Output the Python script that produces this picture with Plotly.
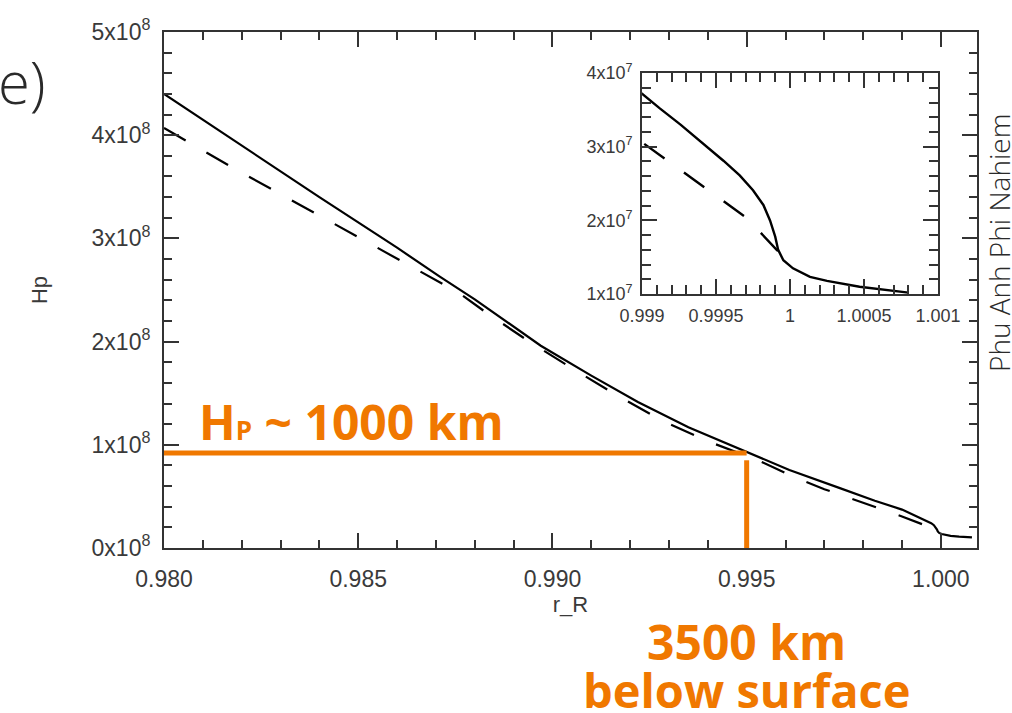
import numpy as np
import plotly.graph_objects as go

# ---------------- data ----------------
r_solid = [0.9800, 0.9820, 0.9840, 0.9860, 0.9871, 0.9880, 0.9889, 0.9897, 0.9910,
           0.9922, 0.9935, 0.9950, 0.9961, 0.9974, 0.9983, 0.9990, 0.99912, 0.99926,
           0.99941, 0.99955, 0.99966, 0.99975, 0.99982, 0.999865, 0.99990, 0.99992,
           0.999955, 1.00002, 1.000135, 1.00025, 1.00047, 1.00070, 1.00080]
hp_solid = [4.40e8, 3.90e8, 3.40e8, 2.91e8, 2.63e8, 2.41e8, 2.17e8, 1.96e8, 1.67e8,
            1.415e8, 1.17e8, 0.93e8, 0.756e8, 0.58e8, 0.458e8, 0.372e8, 0.352e8, 0.330e8,
            0.305e8, 0.281e8, 0.261e8, 0.241e8, 0.221e8, 0.200e8, 0.178e8, 0.160e8,
            0.146e8, 0.135e8, 0.1235e8, 0.118e8, 0.110e8, 0.1045e8, 0.102e8]

r_dash = [0.9800, 0.9817, 0.9829, 0.9852, 0.9870, 0.9876, 0.9883, 0.9894, 0.9906,
          0.9917, 0.9929, 0.9941, 0.9953, 0.9962, 0.9970, 0.99765, 0.99876, 0.9990,
          0.99971, 0.99991, 1.00000]
hp_dash = [4.07e8, 3.70e8, 3.45e8, 2.97e8, 2.60e8, 2.47e8, 2.28e8, 2.00e8, 1.72e8,
           1.47e8, 1.22e8, 1.02e8, 0.85e8, 0.69e8, 0.57e8, 0.485e8, 0.335e8, 0.306e8,
           0.203e8, 0.160e8, 0.145e8]

main_x_ticks = [0.980, 0.985, 0.990, 0.995, 1.000]
main_x_labels = ["0.980", "0.985", "0.990", "0.995", "1.000"]
main_y_ticks = [0, 1e8, 2e8, 3e8, 4e8, 5e8]
main_y_labels = ["0x10<sup>8</sup>", "1x10<sup>8</sup>", "2x10<sup>8</sup>",
                 "3x10<sup>8</sup>", "4x10<sup>8</sup>", "5x10<sup>8</sup>"]

inset_x_ticks = [0.999, 0.9995, 1.0, 1.0005, 1.001]
inset_x_labels = ["0.999", "0.9995", "1", "1.0005", "1.001"]
inset_y_ticks = [1e7, 2e7, 3e7, 4e7]
inset_y_labels = ["1x10<sup>7</sup>", "2x10<sup>7</sup>", "3x10<sup>7</sup>", "4x10<sup>7</sup>"]

hp_level = 0.92e8      # orange guide level
r_mark = 0.995         # orange guide radius
vline_top = 0.85e8

# ---------------- style ----------------
AX = "#333333"
TXT = "#3a3a3a"
ORANGE = "#F07800"
FONT = "Liberation Sans, Arial, sans-serif"

fig = go.Figure()

for xa, ya, w in [("x", "y", 2.2), ("x2", "y2", 2.4)]:
    fig.add_trace(go.Scatter(x=r_solid, y=hp_solid, mode="lines", xaxis=xa, yaxis=ya,
                             line=dict(color="black", width=w), showlegend=False,
                             hoverinfo="skip"))
    fig.add_trace(go.Scatter(x=r_dash, y=hp_dash, mode="lines", xaxis=xa, yaxis=ya,
                             line=dict(color="black", width=w, dash="25px,24px"),
                             showlegend=False, hoverinfo="skip"))


def axis_style(major_len, minor_len, minor_vals, fsize):
    return dict(showline=True, linewidth=2, linecolor=AX, mirror="allticks",
                ticks="inside", ticklen=major_len, tickwidth=2, tickcolor=AX,
                showgrid=False, zeroline=False,
                tickfont=dict(family=FONT, size=fsize, color=TXT),
                minor=dict(tickmode="array", tickvals=minor_vals, ticks="inside",
                           ticklen=minor_len, tickwidth=2, tickcolor=AX, showgrid=False))


main_x_minor = list(np.round(np.arange(0.980, 1.0009, 0.001), 4))
main_y_minor = list(np.arange(0, 5.01e8, 0.2e8))
inset_x_minor = list(np.round(np.arange(0.999, 1.00101, 0.0001), 5))
inset_y_minor = list(np.arange(1e7, 4.01e7, 0.2e7))

fig.update_layout(
    width=1012, height=713, autosize=False,
    margin=dict(l=164, r=35, t=32, b=165, pad=0),
    paper_bgcolor="white", plot_bgcolor="white",
    xaxis=dict(range=[0.980, 1.00093], tickmode="array", tickvals=main_x_ticks,
               ticktext=main_x_labels, ticklabelstandoff=9,
               title=dict(text="r_R", font=dict(family=FONT, size=22, color=TXT), standoff=4),
               **axis_style(15, 8, main_x_minor, 23)),
    yaxis=dict(range=[0, 5e8], tickmode="array", tickvals=main_y_ticks,
               ticktext=main_y_labels, ticklabelstandoff=7,
               title=dict(text="Hp", font=dict(family=FONT, size=22, color=TXT), standoff=38),
               **axis_style(15, 8, main_y_minor, 23)),
    xaxis2=dict(domain=[0.588, 0.952], anchor="y2", range=[0.999, 1.001],
                tickmode="array", tickvals=inset_x_ticks, ticktext=inset_x_labels,
                ticklabelstandoff=4,
                **axis_style(15, 9, inset_x_minor, 18)),
    yaxis2=dict(domain=[0.492, 0.9205], anchor="x2", range=[1e7, 4e7],
                tickmode="array", tickvals=inset_y_ticks, ticktext=inset_y_labels,
                ticklabelstandoff=4,
                **axis_style(15, 9, inset_y_minor, 18)),
)

# orange guide lines
fig.add_shape(type="line", xref="x", yref="y", x0=main_x_ticks[0], x1=r_mark,
              y0=hp_level, y1=hp_level, line=dict(color=ORANGE, width=5))
fig.add_shape(type="line", xref="x", yref="y", x0=r_mark, x1=r_mark,
              y0=0, y1=vline_top, line=dict(color=ORANGE, width=5))

# texts
fig.add_annotation(xref="paper", yref="paper", x=0.041, y=0.246, xanchor="left",
                   yanchor="middle", showarrow=False,
                   text="H<span style='font-size:26px'>P</span> ~ 1000 km",
                   font=dict(family="Open Sans", size=48, color=ORANGE, weight="bold"))
fig.add_annotation(xref="x", yref="paper", x=r_mark, y=-0.182, xanchor="center",
                   yanchor="middle", showarrow=False, text="3500 km",
                   font=dict(family="Open Sans", size=48, color=ORANGE, weight="bold"))
fig.add_annotation(xref="x", yref="paper", x=r_mark, y=-0.275, xanchor="center",
                   yanchor="middle", showarrow=False, text="below surface",
                   font=dict(family="Open Sans", size=47, color=ORANGE, weight="bold"))
fig.add_annotation(xref="paper", yref="paper", x=-0.143, y=0.905, xanchor="right",
                   yanchor="middle", showarrow=False, text="e)",
                   font=dict(family="Open Sans", size=58, color="#2a2a2a", weight=300))
fig.add_annotation(xref="paper", yref="paper", x=1.027, y=0.591, xanchor="center",
                   yanchor="middle", showarrow=False, textangle=-90,
                   text="Phu Anh Phi Nahiem",
                   font=dict(family="Open Sans", size=28, color="#2a2a2a", weight=300))

fig.write_html("out.html")
